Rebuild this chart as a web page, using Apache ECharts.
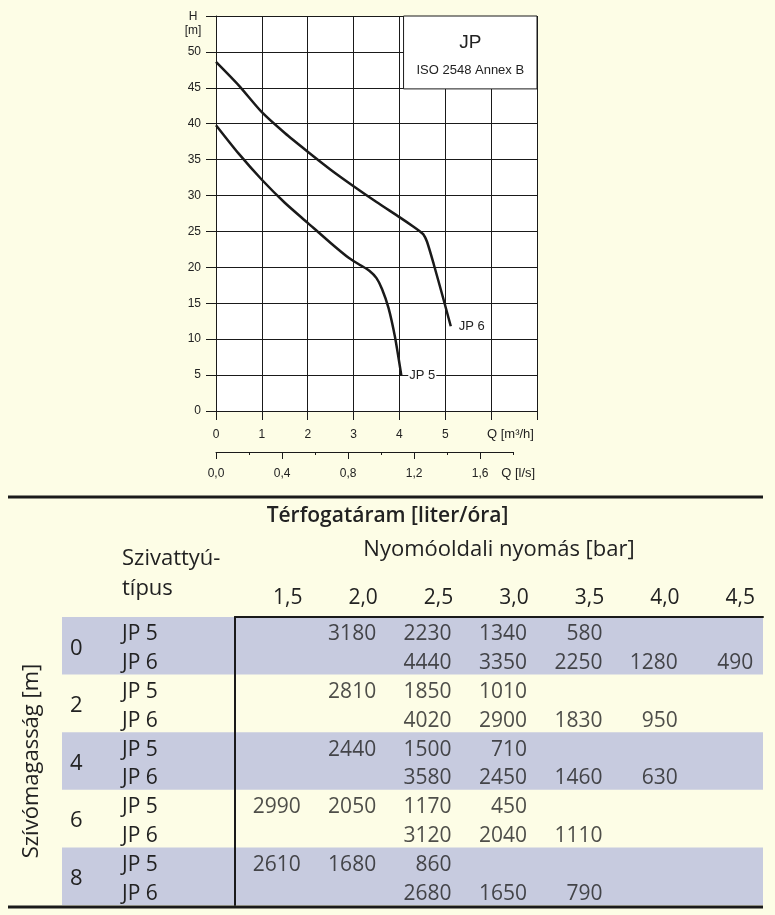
<!DOCTYPE html>
<html><head><meta charset="utf-8">
<script src="https://cdn.jsdelivr.net/npm/echarts@6/dist/echarts.min.js"></script>
<style>html,body{margin:0;padding:0;background:#FDFDE6}#c{width:775px;height:915px}</style>
</head><body><div id="c"></div>
<script>
// ---- chart data ----
const jp6Curve = [[0,48.6],[0.5,45.3],[1,41.6],[1.5,38.7],[2,36.1],[2.5,33.6],[3,31.3],[3.5,29.1],[4,27.0],[4.3,25.7],[4.45,25.0],[4.52,24.6],[4.6,23.6],[4.75,20.4],[4.95,15.8],[5.12,11.8]];
const jp5Curve = [[0,39.8],[0.5,35.8],[1,32.2],[1.5,29.0],[2,26.2],[2.5,23.4],[2.9,21.3],[3.15,20.3],[3.35,19.5],[3.5,18.5],[3.62,17.0],[3.76,14.4],[3.9,10.4],[4.04,5.0]];
const curveNames = ['JP 6','JP 5'];
// ---- table data ----
const pressures = ['1,5','2,0','2,5','3,0','3,5','4,0','4,5'];
const depths = ['0','2','4','6','8'];
const types = ['JP 5','JP 6'];
const d0jp5 = [null,3180,2230,1340,580,null,null];
const d0jp6 = [null,null,4440,3350,2250,1280,490];
const d2jp5 = [null,2810,1850,1010,null,null,null];
const d2jp6 = [null,null,4020,2900,1830,950,null];
const d4jp5 = [null,2440,1500,710,null,null,null];
const d4jp6 = [null,null,3580,2450,1460,630,null];
const d6jp5 = [2990,2050,1170,450,null,null,null];
const d6jp6 = [null,null,3120,2040,1110,null,null];
const d8jp5 = [2610,1680,860,null,null,null,null];
const d8jp6 = [null,null,2680,1650,790,null,null];
const tableRows = [d0jp5,d0jp6,d2jp5,d2jp6,d4jp5,d4jp6,d6jp5,d6jp6,d8jp5,d8jp6];

const rowLabels = depths.flatMap(() => types);
const cells = [];
tableRows.forEach((row, r) => row.forEach((v, c) => { if (v != null) cells.push([c, r, v]); }));

const INK = '#1a1a1a', TXT = '#222', STRIPE = '#C7CBDF';
const SANS = 'Liberation Sans, Arial, sans-serif';
const TF = 'Open Sans';
const comma1 = v => v.toFixed(1).replace('.', ',');
const isMul = (v, s) => Math.abs(v / s - Math.round(v / s)) < 1e-6;

const chart = echarts.init(document.getElementById('c'), null, {renderer: 'canvas'});
chart.setOption({
  backgroundColor: '#FDFDE6',
  animation: false,
  textStyle: {fontFamily: SANS},
  title: [
    {text: 'Térfogatáram [liter/óra]', left: 'center', top: 506, padding: 0,
     textStyle: {fontFamily: TF, fontSize: 21, fontWeight: 600, color: TXT}},
    {text: 'Szivattyú-\ntípus', left: 122, top: 544, padding: 0,
     textStyle: {fontFamily: TF, fontSize: 22, fontWeight: 'normal', lineHeight: 30, color: TXT}}
  ],
  grid: [
    {left: 216, top: 16, width: 321, height: 395, show: true, backgroundColor: '#fff', borderWidth: 0, outerBoundsMode: 'none'},
    {left: 216, top: 451, width: 297.2, height: 1, outerBoundsMode: 'none'},
    {left: 62, top: 617, width: 173, height: 288, outerBoundsMode: 'none'},
    {left: 235, top: 617, width: 528, height: 288, outerBoundsMode: 'none'},
    {left: 216, top: 451, width: 264.2, height: 1, outerBoundsMode: 'none'}
  ],
  xAxis: [
    {gridIndex: 0, type: 'value', min: 0, max: 7, interval: 1,
     axisLine: {onZero: false, lineStyle: {color: INK, width: 1}},
     axisTick: {length: 9, lineStyle: {color: INK}},
     splitLine: {show: true, lineStyle: {color: INK, width: 1}},
     axisLabel: {margin: 18, fontSize: 12, color: TXT, fontFamily: SANS, formatter: v => v > 5.5 ? '' : String(v)},
     name: 'Q [m³/h]', nameLocation: 'end', nameGap: -50, nameMoveOverlap: false,
     nameTextStyle: {fontSize: 13, color: TXT, fontFamily: SANS, align: 'left', verticalAlign: 'top', padding: [17, 0, 0, 0]}},
    {gridIndex: 1, type: 'value', min: 0, max: 1.8, interval: 0.2,
     axisLine: {onZero: false, lineStyle: {color: INK, width: 1}},
     axisTick: {length: 3, lineStyle: {color: INK}},
     axisLabel: {show: false}, splitLine: {show: false},
     name: 'Q [l/s]', nameLocation: 'end', nameGap: -12, nameMoveOverlap: false,
     nameTextStyle: {fontSize: 13, color: TXT, fontFamily: SANS, align: 'left', verticalAlign: 'top', padding: [15, 0, 0, 0]}},
    {gridIndex: 2, type: 'value', show: false},
    {gridIndex: 3, type: 'category', position: 'top', data: pressures,
     axisLine: {show: true, lineStyle: {color: INK, width: 2}},
     axisTick: {show: false}, splitLine: {show: false},
     axisLabel: {interval: 0, fontFamily: TF, fontSize: 21, color: TXT, margin: 8, padding: [0, 0, 0, 30]},
     name: 'Nyomóoldali nyomás [bar]', nameLocation: 'middle', nameGap: 67, nameMoveOverlap: false,
     nameTextStyle: {fontFamily: TF, fontSize: 22, color: TXT, verticalAlign: 'middle'}},
    {gridIndex: 4, type: 'value', min: 0, max: 1.6, interval: 0.4,
     axisLine: {show: false, onZero: false},
     axisTick: {length: 7, lineStyle: {color: INK}},
     splitLine: {show: false},
     axisLabel: {margin: 16, fontSize: 12, color: TXT, fontFamily: SANS, formatter: v => isMul(v, 0.4) ? comma1(v) : ''}}
  ],
  yAxis: [
    {gridIndex: 0, type: 'value', min: 0, max: 55, interval: 5,
     axisLine: {show: true, onZero: false, lineStyle: {color: INK, width: 1}},
     axisTick: {show: true, length: 10, lineStyle: {color: INK}},
     splitLine: {show: true, lineStyle: {color: INK, width: 1}},
     axisLabel: {margin: 15, fontSize: 12, color: TXT, fontFamily: SANS, formatter: v => v >= 55 ? '' : String(v)},
     name: 'H\n[m]', nameLocation: 'end', nameGap: 6, nameMoveOverlap: false,
     nameTextStyle: {fontSize: 12, color: TXT, fontFamily: SANS, align: 'center', verticalAlign: 'top', lineHeight: 14, padding: [0, 46, 0, 0]}},
    {gridIndex: 1, type: 'value', show: false},
    {gridIndex: 2, type: 'category', inverse: true, data: rowLabels, position: 'left',
     axisLine: {show: false, onZero: false}, axisTick: {show: false},
     axisLabel: {inside: true, margin: 60, interval: 0, fontFamily: TF, fontSize: 21, color: TXT,
       formatter: v => '{r|' + v + '}', rich: {r: {fontFamily: TF, fontSize: 21, color: TXT, padding: [6, 0, 0, 0]}}}},
    {gridIndex: 2, type: 'category', inverse: true, data: depths, position: 'left',
     axisLine: {show: false, onZero: false}, axisTick: {show: false},
     axisLabel: {inside: true, margin: 8, interval: 0, fontFamily: TF, fontSize: 22, color: TXT,
       formatter: v => '{r|' + v + '}', rich: {r: {fontFamily: TF, fontSize: 22, color: TXT, padding: [5, 0, 0, 0]}}},
     splitArea: {show: true, areaStyle: {color: [STRIPE, 'rgba(0,0,0,0)']}},
     name: 'Szívómagasság [m]', nameLocation: 'middle', nameRotate: 90, nameGap: 30, nameMoveOverlap: false,
     nameTextStyle: {fontFamily: TF, fontSize: 22, color: TXT, verticalAlign: 'middle'}},
    {gridIndex: 3, type: 'category', inverse: true, data: depths, position: 'left',
     axisLine: {show: true, onZero: false, lineStyle: {color: INK, width: 2}},
     axisTick: {show: false}, axisLabel: {show: false},
     splitArea: {show: true, areaStyle: {color: [STRIPE, 'rgba(0,0,0,0)']}}},
    {gridIndex: 3, type: 'category', inverse: true, data: rowLabels, show: false},
    {gridIndex: 4, type: 'value', show: false}
  ],
  series: [
    {name: curveNames[0], type: 'line', xAxisIndex: 0, yAxisIndex: 0, data: jp6Curve,
     showSymbol: false, smooth: 0.25, lineStyle: {color: INK, width: 2.5}, silent: true,
     endLabel: {show: true, formatter: curveNames[0], distance: 7, fontSize: 13, color: TXT, fontFamily: SANS, backgroundColor: '#fff', padding: [1, 1]},
     markArea: {silent: true,
       itemStyle: {color: '#fff', borderColor: INK, borderWidth: 1},
       label: {show: true, position: 'inside', padding: [9, 0, 0, 0],
         formatter: '{a|JP}\n{b|ISO 2548 Annex B}',
         rich: {a: {fontSize: 19, lineHeight: 26, color: TXT, fontFamily: SANS},
                b: {fontSize: 13, lineHeight: 28, color: TXT, fontFamily: SANS}}},
       data: [[{xAxis: 4.09, yAxis: 55}, {xAxis: 7, yAxis: 44.85}]]}},
    {name: curveNames[1], type: 'line', xAxisIndex: 0, yAxisIndex: 0, data: jp5Curve,
     showSymbol: false, smooth: 0.25, lineStyle: {color: INK, width: 2.5}, silent: true,
     endLabel: {show: true, formatter: curveNames[1], distance: 7, fontSize: 13, color: TXT, fontFamily: SANS, backgroundColor: '#fff', padding: [1, 1]}},
    {type: 'scatter', xAxisIndex: 3, yAxisIndex: 5, data: cells, symbolSize: 1, silent: true,
     itemStyle: {color: 'rgba(0,0,0,0)'},
     label: {show: true, position: 'inside', align: 'right', offset: [28, 3],
       formatter: p => String(p.value[2]), fontFamily: TF, fontSize: 21, color: TXT}}
  ],
  graphic: [
    {type: 'line', shape: {x1: 8, y1: 497, x2: 763, y2: 497}, style: {stroke: INK, lineWidth: 3}},
    {type: 'line', shape: {x1: 8, y1: 907, x2: 763, y2: 907}, style: {stroke: INK, lineWidth: 3}}
  ]
});
</script></body></html>
